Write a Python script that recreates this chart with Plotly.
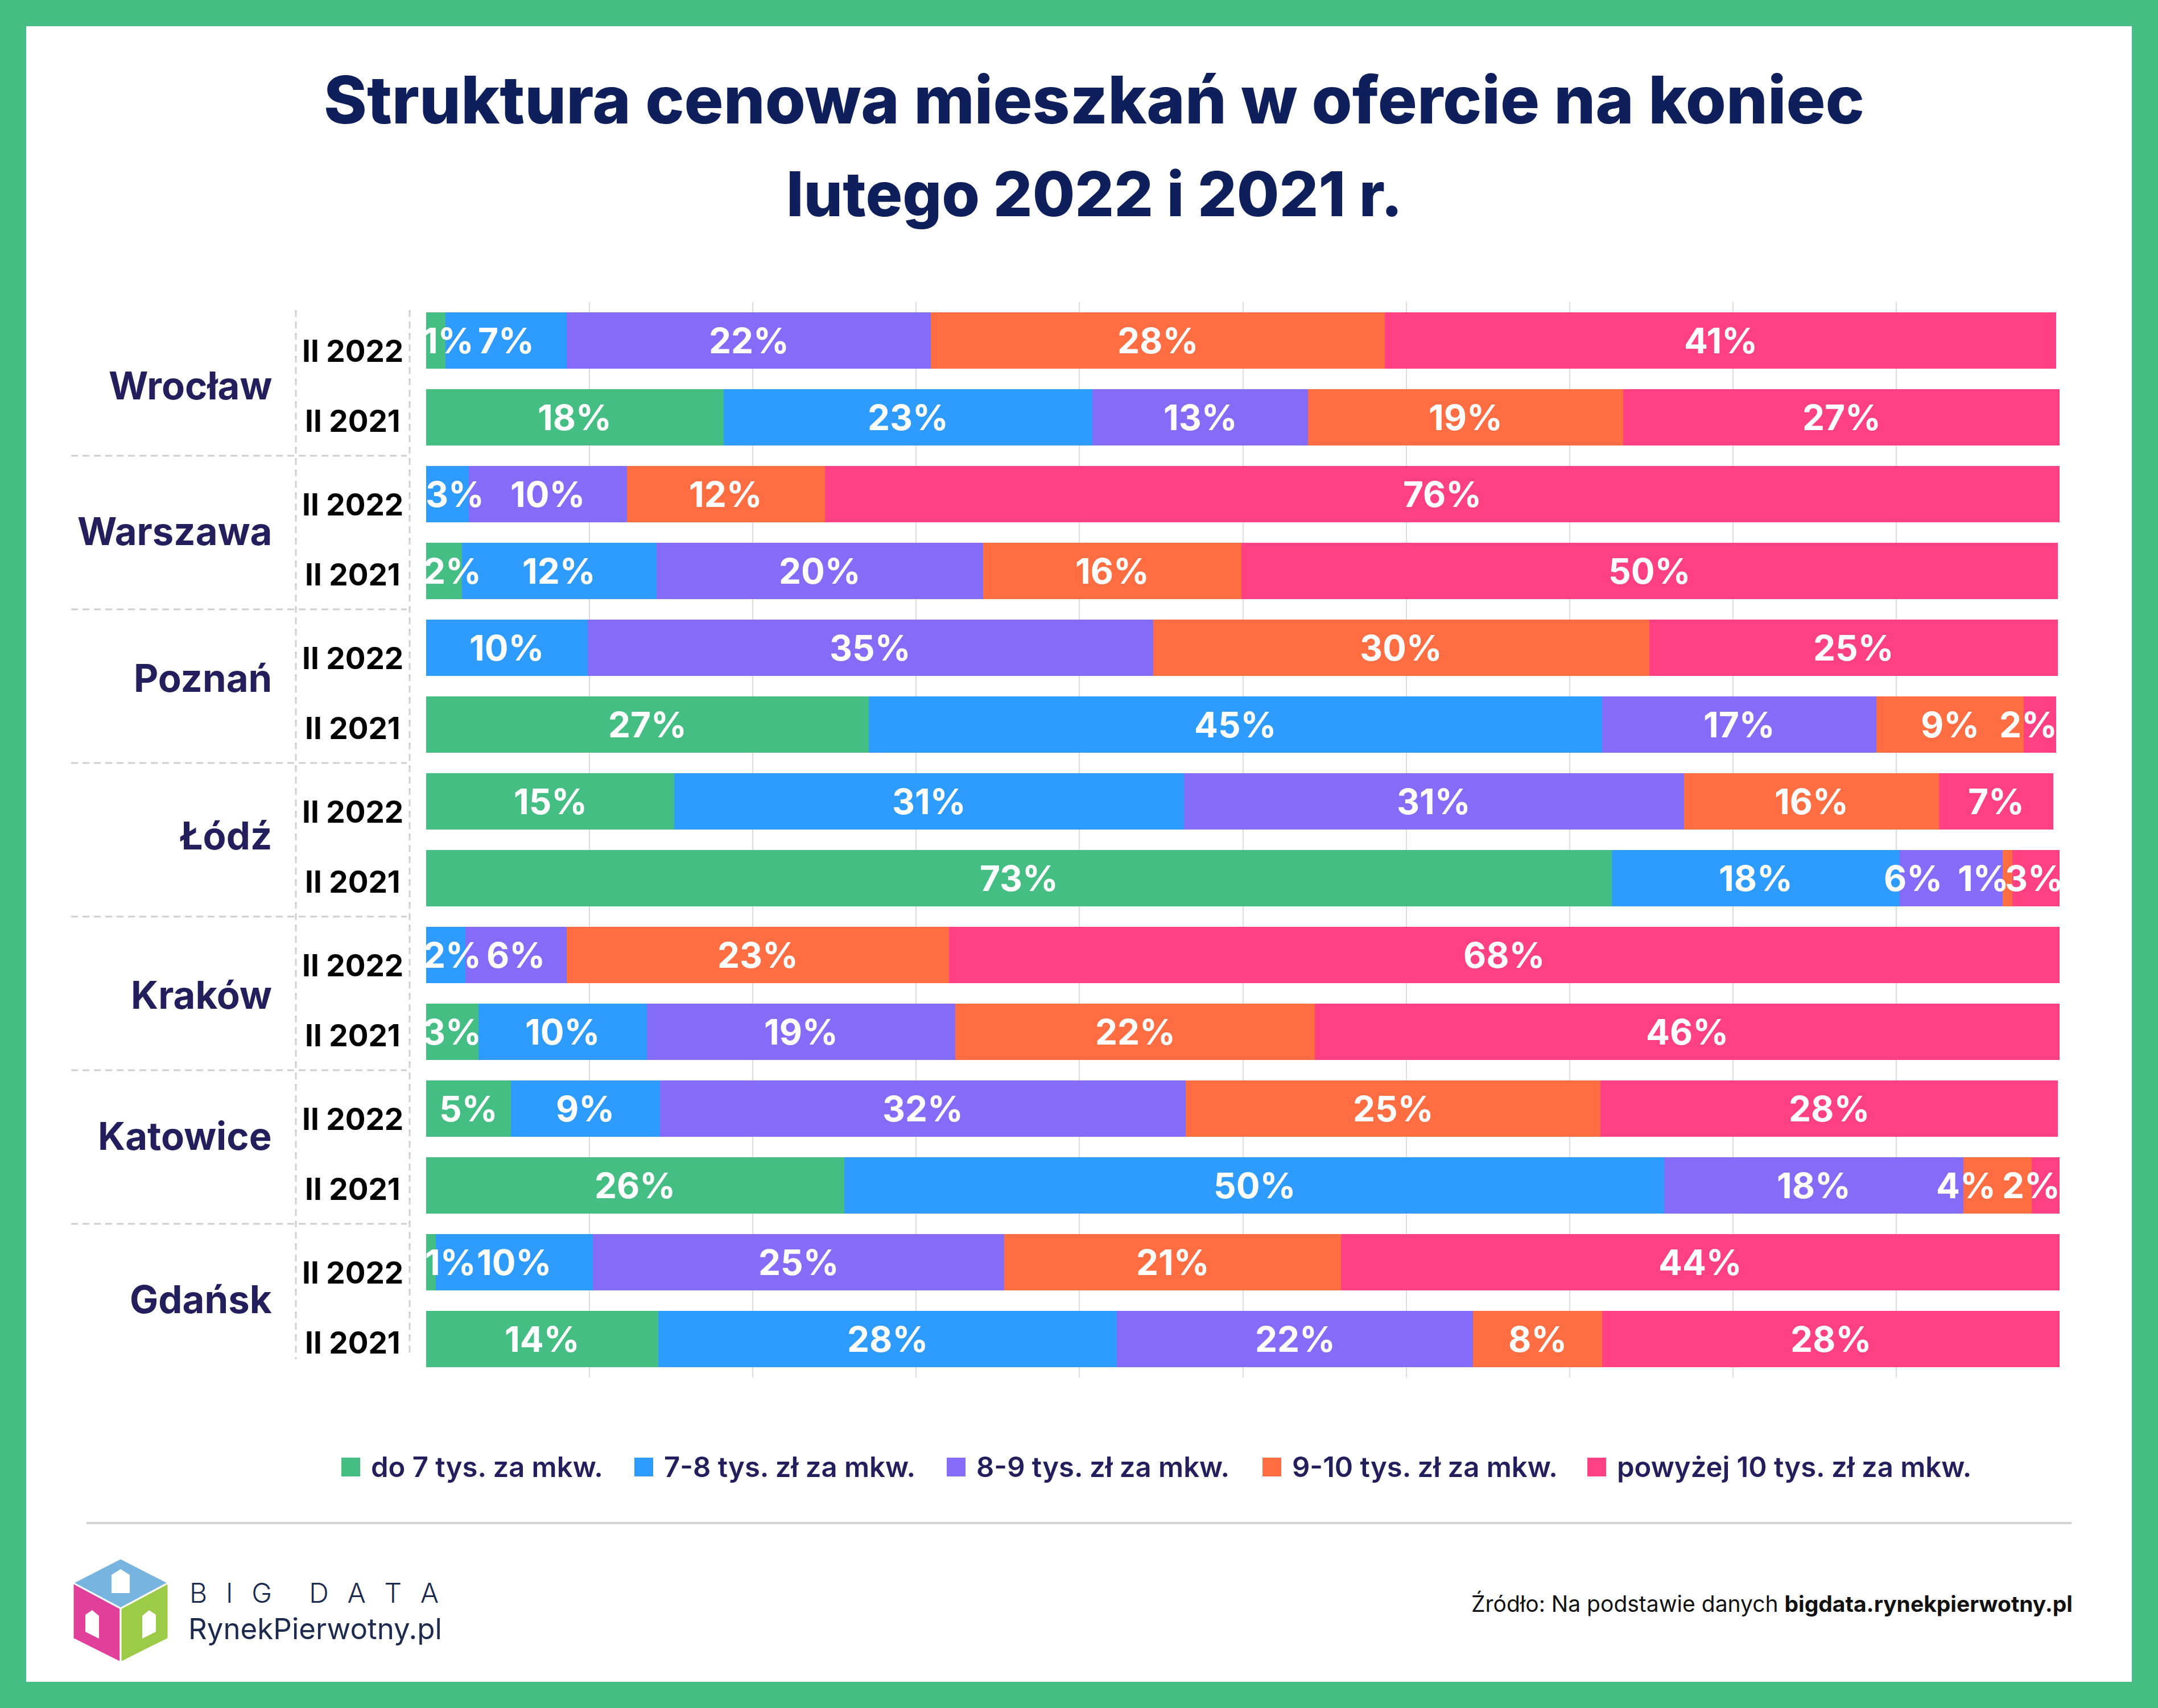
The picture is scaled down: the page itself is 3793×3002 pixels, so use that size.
import plotly.graph_objects as go

# ---------------- data ----------------
cities = ["Wrocław", "Warszawa", "Poznań", "Łódź", "Kraków", "Katowice", "Gdańsk"]
periods = ["II 2022", "II 2021"]
series_names = ["do 7 tys. za mkw.", "7-8 tys. zł za mkw.", "8-9 tys. zł za mkw.",
                "9-10 tys. zł za mkw.", "powyżej 10 tys. zł za mkw."]

# rows: city x period (II 2022, II 2021), in order of cities
do_7 =      [1.2, 18.2, None, 2.2, None, 27.1, 15.2, 72.6, None, 3.2, 5.2, 25.6, 0.6, 14.2]
od_7_8 =    [7.4, 22.6, 2.6, 11.9, 9.9, 44.9, 31.2, 17.6, 2.4, 10.3, 9.1, 50.2, 9.6, 28.1]
od_8_9 =    [22.3, 13.2, 9.7, 20.0, 34.6, 16.8, 30.6, 6.3, 6.2, 18.9, 32.2, 18.3, 25.2, 21.8]
od_9_10 =   [27.8, 19.3, 12.1, 15.8, 30.4, 9.0, 15.6, 0.6, 23.4, 22.0, 25.4, 4.2, 20.6, 7.9]
pow_10 =    [41.1, 26.7, 75.6, 50.0, 25.0, 2.0, 7.0, 2.9, 68.0, 45.6, 28.0, 1.7, 44.0, 28.0]
series_values = [do_7, od_7_8, od_8_9, od_9_10, pow_10]

title_lines = ["Struktura cenowa mieszkań w ofercie na koniec", "lutego 2022 i 2021 r."]
source_regular = "Źródło: Na podstawie danych "
source_bold = "bigdata.rynekpierwotny.pl"

# ---------------- styles ----------------
colors = ["#45BE83", "#2E9BFF", "#856CF8", "#FF6D42", "#FF4082"]
BORDER = "#45BE83"
NAVY = "#0E1F5B"
INDIGO = "#231F5C"
FONT = "Inter"

W, H = 3793, 3002
L, R, T, B = 749, 3620, 531, 2421


def px(x):
    return (x - L) / (R - L)


def py(y):
    return (B - y) / (B - T)


n_rows = len(cities) * len(periods)
rows = list(range(n_rows))

fig = go.Figure()
for name, vals, col in zip(series_names, series_values, colors):
    fig.add_trace(go.Bar(
        y=rows, x=vals, orientation="h", name=name,
        marker=dict(color=col, line=dict(width=0)),
        width=0.733, showlegend=False, hoverinfo="x+name",
    ))

annotations = []
shapes = []

# value labels (centred on each segment, a few nudged to avoid overlaps)
nudges = {(0, 0): 22, (2, 1): 13, (3, 0): 14, (5, 4): -21, (7, 2): -67,
          (7, 3): -42, (7, 4): -3, (8, 1): 12, (11, 3): -55, (11, 4): -26, (12, 0): 34}
for r in rows:
    cum = 0.0
    for s, vals in enumerate(series_values):
        v = vals[r]
        if v is None:
            continue
        annotations.append(dict(
            x=cum + v / 2, y=r, xref="x", yref="y", text=f"{round(v)}%",
            showarrow=False, xanchor="center", yanchor="middle",
            xshift=nudges.get((r, s), 0), yshift=0,
            font=dict(family=FONT, size=62, color="white", weight="bold"),
        ))
        cum += v

# city + period labels
city_shift = [-7, 7, 19, 12, 2, 24, 7]
year_shift = {"II 2022": -18, "II 2021": -6}
for ci, city in enumerate(cities):
    annotations.append(dict(
        x=px(480), y=2 * ci + 0.5, xref="paper", yref="y", text=city,
        showarrow=False, xanchor="right", yanchor="middle", yshift=city_shift[ci] - 4,
        font=dict(family=FONT, size=67, color=INDIGO, weight="bold"),
    ))
    for pi, per in enumerate(periods):
        annotations.append(dict(
            x=px(620), y=2 * ci + pi, xref="paper", yref="y", text=per,
            showarrow=False, xanchor="center", yanchor="middle",
            yshift=year_shift[per],
            font=dict(family=FONT, size=53, color="#000000", weight="bold"),
        ))

# dashed table lines
dash_style = dict(color="#CFCFCF", width=3, dash="12px,8px")
shapes.append(dict(type="line", xref="paper", yref="paper", x0=px(520), x1=px(520),
                   y0=py(545), y1=py(2389), line=dash_style))
shapes.append(dict(type="line", xref="paper", yref="paper", x0=px(720), x1=px(720),
                   y0=py(545), y1=py(2381), line=dash_style))
for ci in range(1, len(cities)):
    shapes.append(dict(type="line", xref="paper", yref="y", x0=px(125), x1=px(715),
                       y0=2 * ci - 0.5, y1=2 * ci - 0.5, line=dash_style))

# white card on green border
shapes.insert(0, dict(type="rect", xref="paper", yref="paper", x0=px(46), x1=px(3747),
                      y0=py(46), y1=py(2956), fillcolor="white", line=dict(width=0),
                      layer="below"))

# title
for line, yc, fs in zip(title_lines, [176, 340], [115, 108]):
    annotations.append(dict(
        x=px(1923), y=py(yc), xref="paper", yref="paper", text=line, showarrow=False,
        xanchor="center", yanchor="middle",
        font=dict(family=FONT, size=fs, color=NAVY, weight=800),
    ))

# legend (manual, large square markers)
legend_x = [600, 1115, 1664, 2219, 2790]
for name, col, lx in zip(series_names, colors, legend_x):
    shapes.append(dict(type="rect", xref="paper", yref="paper", x0=px(lx), x1=px(lx + 33),
                       y0=py(2595), y1=py(2562), fillcolor=col, line=dict(width=0)))
    annotations.append(dict(
        x=px(lx + 50), y=py(2578), xref="paper", yref="paper", text=name, showarrow=False,
        xanchor="left", yanchor="middle",
        font=dict(family=FONT, size=49, color=INDIGO, weight=600),
    ))

# footer separator
shapes.append(dict(type="line", xref="paper", yref="paper", x0=px(152), x1=px(3641),
                   y0=py(2677), y1=py(2677), line=dict(color="#D4D4D4", width=4)))

# source
annotations.append(dict(
    x=px(3645), y=py(2818), xref="paper", yref="paper",
    text=f"{source_regular}<b>{source_bold}</b>", showarrow=False,
    xanchor="right", yanchor="middle",
    font=dict(family=FONT, size=39, color="#111111"),
))

# logo: isometric cube


def path(pts):
    return "M " + " L ".join(f"{px(x)},{py(y)}" for x, y in pts) + " Z"


top, ul, ur = (212, 2739), (128, 2782), (296, 2782)
ctr, ll, lr, bot = (212, 2827), (128, 2880), (296, 2880), (212, 2922)
shapes.append(dict(type="path", xref="paper", yref="paper", path=path([top, ur, ctr, ul]),
                   fillcolor="#78B4E0", line=dict(color="white", width=3)))
shapes.append(dict(type="path", xref="paper", yref="paper", path=path([ul, ctr, bot, ll]),
                   fillcolor="#E0409A", line=dict(color="white", width=3)))
shapes.append(dict(type="path", xref="paper", yref="paper", path=path([ctr, ur, lr, bot]),
                   fillcolor="#9CCB48", line=dict(color="white", width=3)))
# small white house cut-outs
for pts in ([(196, 2768), (212, 2758), (228, 2768), (228, 2800), (196, 2800)],
            [(150, 2838), (162, 2830), (174, 2840), (174, 2880), (150, 2868)],
            [(250, 2840), (262, 2830), (274, 2838), (274, 2868), (250, 2880)]):
    shapes.append(dict(type="path", xref="paper", yref="paper", path=path(pts),
                       fillcolor="white", line=dict(width=0)))

annotations.append(dict(
    x=px(331), y=py(2799), xref="paper", yref="paper",
    text="B\u2002\u2009I\u2002\u2009G\u2002\u2009\u2002\u2009D\u2002\u2009A\u2002\u2009T\u2002\u2009A",
    showarrow=False, xanchor="left", yanchor="middle",
    font=dict(family=FONT, size=48, color="#1B2A4E", weight=300),
))
annotations.append(dict(
    x=px(329), y=py(2862), xref="paper", yref="paper", text="RynekPierwotny.pl",
    showarrow=False, xanchor="left", yanchor="middle",
    font=dict(family=FONT, size=51, color="#1B2A4E", weight=400),
))

fig.update_layout(
    width=W, height=H, autosize=False,
    margin=dict(l=L, r=W - R, t=T, b=H - B, pad=0),
    paper_bgcolor=BORDER, plot_bgcolor="white",
    barmode="stack", bargap=0.267,
    showlegend=False,
    font=dict(family=FONT),
    xaxis=dict(range=[0, 100], dtick=10, showgrid=True, gridcolor="#DCDCDC", gridwidth=2,
               showticklabels=False, zeroline=False, showline=False, ticks="", fixedrange=True),
    yaxis=dict(range=[n_rows - 0.5, -0.5], showgrid=False, showticklabels=False,
               zeroline=False, showline=False, ticks="", fixedrange=True),
    annotations=annotations, shapes=shapes,
)

fig.write_html("out.html")
